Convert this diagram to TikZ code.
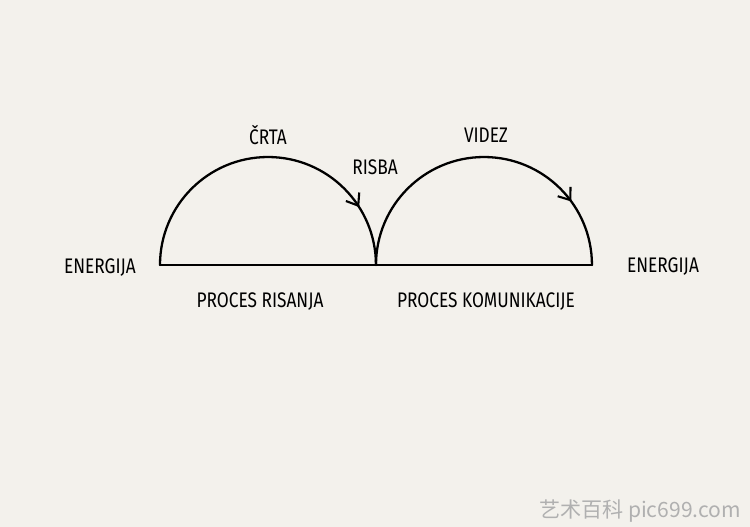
\documentclass[tikz,border=0pt]{standalone}
\usepackage{fontspec}
\setmainfont{Fira Sans}[FakeStretch=0.82]
\newfontfamily\cjkfont{Noto Sans CJK SC}
\usetikzlibrary{arrows.meta,decorations.markings}

\definecolor{paper}{RGB}{243,241,236}
\definecolor{mark}{RGB}{176,176,176}

\begin{document}
\begin{tikzpicture}[
  x=0.02cm,y=0.02cm,
  stroke/.style={line width=1.3pt,line cap=round,line join=round},
  label/.style={anchor=base,inner sep=0pt,font=\fontsize{12}{14}\selectfont},
  flow/.style={postaction={decorate},decoration={markings,
    mark=at position #1 with {\arrow{Straight Barb[length=6pt,width=9pt,line width=1.2pt]}}}}
]
  \fill[paper] (0,0) rectangle (750,527);
  \useasboundingbox (0,0) rectangle (750,527);

  \coordinate (start) at (160,262);
  \coordinate (mid) at (376,262);
  \coordinate (end) at (592,262);

  \draw[stroke] (start) -- (end);
  \draw[stroke,flow=0.82] (start) arc[start angle=180,end angle=0,radius=2.16cm];
  \draw[stroke,flow=0.80] (mid) arc[start angle=180,end angle=0,radius=2.16cm];

  \node[label] (energyL) at (100,253) {ENERGIJA};
  \node[label] (energyR) at (663,254) {ENERGIJA};
  \node[label] (crta) at (268,382) {ČRTA};
  \node[label] (risba) at (375,352) {RISBA};
  \node[label] (videz) at (486,384) {VIDEZ};
  \node[label] (drawing) at (260,219) {PROCES RISANJA};
  \node[label] (communication) at (486,219) {PROCES KOMUNIKACIJE};

  \node[anchor=base,inner sep=0pt,text=mark,font=\cjkfont\fontsize{12}{14}\selectfont] (watermark) at (640,10) {艺术百科 pic699.com};
\end{tikzpicture}
\end{document}
